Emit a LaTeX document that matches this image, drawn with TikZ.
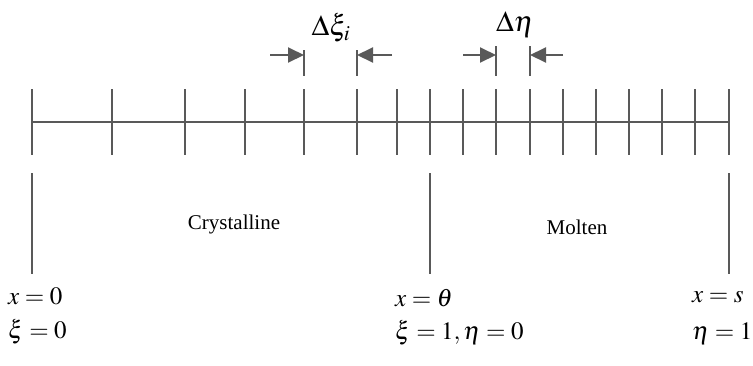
\documentclass[tikz,border=0pt]{standalone}
\usepackage{mathptmx}
\usepackage{fontspec}
\setmainfont{Liberation Serif}
\usetikzlibrary{arrows.meta}
\definecolor{lg}{HTML}{595959}
\begin{document}
\begin{tikzpicture}[x=1pt,y=-1pt,
  ln/.style={draw=lg,line width=2pt},
  dim/.style={draw=lg,line width=2pt,-{Triangle[length=16pt,width=15pt]}},
  eq/.style={font=\fontsize{25}{28}\selectfont,inner sep=0pt,anchor=west},
  lbl/.style={font=\fontsize{21}{23}\selectfont,inner sep=0pt},
  dl/.style={font=\fontsize{29}{31}\selectfont,inner sep=0pt}]
\useasboundingbox (0,0) rectangle (753,365);
% main line
\coordinate (L) at (32,122);
\coordinate (R) at (729,122);
\draw[ln] (L) -- (R);
\foreach \x in {32,112,185,245,304,357,397,430,463,496,530,563,596,629,662,695,729}{
  \draw[ln] (\x,89) -- (\x,155);
}
% dimension for Delta xi_i
\coordinate (a1) at (304,50); \coordinate (a2) at (304,76);
\coordinate (b1) at (357,50); \coordinate (b2) at (357,76);
\draw[ln] (a1) -- (a2);
\draw[ln] (b1) -- (b2);
\coordinate (a0) at (270,55); \coordinate (b0) at (392,55);
\draw[dim] (a0) -- (a1 |- a0);
\draw[dim] (b0) -- (b1 |- b0);
\node[dl] (dxi) at (331,28) {$\Delta\xi_i$};
% dimension for Delta eta
\coordinate (c1) at (496,46); \coordinate (c2) at (496,76);
\coordinate (d1) at (530,46); \coordinate (d2) at (530,76);
\draw[ln] (c1) -- (c2);
\draw[ln] (d1) -- (d2);
\coordinate (c0) at (463,55); \coordinate (d0) at (563,55);
\draw[dim] (c0) -- (c1 |- c0);
\draw[dim] (d0) -- (d1 |- d0);
\node[dl] (deta) at (515,25) {$\Delta\eta$};
% lower boundary lines
\coordinate (p1) at (32,173); \coordinate (p2) at (32,274);
\coordinate (q1) at (430,173); \coordinate (q2) at (430,274);
\coordinate (r1) at (729,173); \coordinate (r2) at (729,274);
\draw[ln] (p1) -- (p2);
\draw[ln] (q1) -- (q2);
\draw[ln] (r1) -- (r2);
\node[lbl] (cry) at (234,224) {Crystalline};
\node[lbl] (mol) at (577,227) {Molten};
\node[eq] (x0) at (8,296) {$x=0$};
\node[eq] (xi0) at (8,332) {$\xi=0$};
\node[eq] (xt) at (395,298) {$x=\theta$};
\node[eq] (xi1) at (395,333) {$\xi=1,\eta=0$};
\node[eq] (xs) at (692,297) {$x=s$};
\node[eq] (eta1) at (692,334) {$\eta=1$};
\end{tikzpicture}
\end{document}
